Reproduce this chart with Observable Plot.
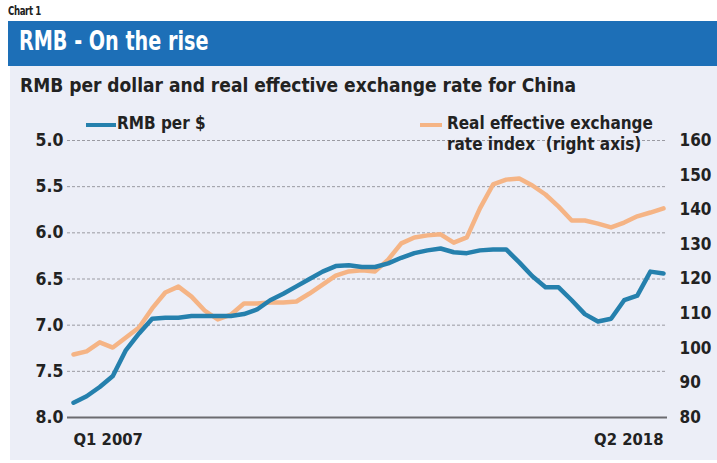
<!DOCTYPE html>
<html>
<head>
<meta charset="utf-8">
<script src="https://cdn.jsdelivr.net/npm/d3@7"></script>
<script src="https://cdn.jsdelivr.net/npm/@observablehq/plot@0.6"></script>
<style>
  html, body { margin: 0; padding: 0; background: #ffffff; }
  body { width: 717px; height: 463px; position: relative; overflow: hidden;
         font-family: "DejaVu Sans Condensed", "DejaVu Sans", sans-serif; }
  #kicker { position: absolute; left: 8px; top: 4px; font-size: 12px; font-weight: bold; color: #222; letter-spacing: -0.5px; transform: scaleX(0.8); transform-origin: left; }
  #banner { position: absolute; left: 8px; top: 21px; width: 709px; height: 45px; background: #1d6fb7; }
  #title { position: absolute; left: 11px; top: 5px; font-size: 26px; font-weight: bold; color: #fff; transform: scaleX(0.82); transform-origin: left; white-space: nowrap; }
  #panel { position: absolute; left: 10px; top: 66px; width: 707px; height: 394px; background: #eceef7; }
  #subtitle { position: absolute; left: 10px; top: 7px; font-size: 20px; font-weight: bold; color: #222; white-space: nowrap; transform: scaleX(0.95); transform-origin: left; }
  #chart { position: absolute; left: 0; top: 34px; }
  .leg { position: absolute; font-size: 17.5px; font-weight: bold; color: #222; line-height: 21px; white-space: nowrap; transform: scaleX(0.97); transform-origin: left; }
  .sw { position: absolute; height: 4px; }
</style>
</head>
<body>
<div id="kicker">Chart 1</div>
<div id="banner"><div id="title">RMB - On the rise</div></div>
<div id="panel">
  <div id="subtitle">RMB per dollar and real effective exchange rate for China</div>
  <div id="chart"></div>
  <div class="sw" style="left:76px; top:57px; width:30px; background:#2580ad;"></div>
  <div class="leg" style="left:107px; top:47px;">RMB per $</div>
  <div class="sw" style="left:410px; top:57px; width:22px; background:#f5b485;"></div>
  <div class="leg" style="left:437px; top:47px;">Real effective exchange<br>rate index&nbsp; (right axis)</div>
</div>
<script>
// Quarterly, Q1 2007 .. Q2 2018
const rmbPerDollar = [7.84, 7.77, 7.67, 7.55, 7.27, 7.09, 6.93, 6.92, 6.92, 6.90,
  6.90, 6.90, 6.90, 6.88, 6.83, 6.73, 6.66, 6.58, 6.50, 6.42,
  6.36, 6.35, 6.37, 6.37, 6.33, 6.27, 6.22, 6.19, 6.17, 6.21,
  6.22, 6.19, 6.18, 6.18, 6.32, 6.47, 6.59, 6.59, 6.73, 6.88,
  6.96, 6.93, 6.73, 6.68, 6.42, 6.44];
const reerIndex = [98.2, 99.1, 101.7, 100.2, 103.1, 106.0, 111.5, 116.1, 117.8, 114.9,
  110.9, 108.3, 109.7, 112.9, 112.9, 113.2, 113.2, 113.5, 115.8, 118.4,
  121.0, 122.2, 122.5, 122.2, 125.6, 130.3, 132.0, 132.6, 132.9, 130.5,
  132.0, 140.4, 147.3, 148.7, 149.0, 147.0, 144.4, 140.9, 136.9, 136.9,
  136.0, 134.9, 136.3, 138.1, 139.2, 140.4];
const leftTicks = [5.0, 5.5, 6.0, 6.5, 7.0, 7.5, 8.0];
const rightTicks = [80, 90, 100, 110, 120, 130, 140, 150, 160];
const xLabels = ["Q1 2007", "Q2 2018"];

// right axis 80..160 shares the frame with left axis 8.0..5.0
const toLeft = r => 5 + (160 - r) * 3 / 80;
const fromLeft = v => Math.round(160 - (v - 5) * 80 / 3);

const rmb = rmbPerDollar.map((v, i) => ({i, v}));
const reer = reerIndex.map((r, i) => ({i, v: toLeft(r)}));
const n = rmbPerDollar.length - 1;
const font = '"DejaVu Sans Condensed", "DejaVu Sans", sans-serif';

const chart = Plot.plot({
  width: 707,
  height: 360,
  marginLeft: 63,
  marginRight: 54,
  marginTop: 40,
  marginBottom: 43,
  style: {background: "transparent", fontFamily: font, fontSize: "17px", fontWeight: "bold", color: "#222"},
  x: {domain: [0, n], axis: null},
  y: {domain: [8, 5], axis: null},
  marks: [
    Plot.ruleY(leftTicks.filter(d => d !== 8), {stroke: "#9a9aa2", strokeWidth: 1, strokeDasharray: "3,2", insetLeft: -6, insetRight: -4}),
    Plot.ruleY([8], {stroke: "#6b6b70", strokeWidth: 2, insetLeft: -6, insetRight: -4}),
    Plot.axisY({anchor: "left", label: null, ticks: leftTicks, tickSize: 0, tickPadding: 10, tickFormat: d3.format(".1f"), fontSize: 17.5, fontWeight: "bold", fill: "#222"}),
    Plot.axisY({anchor: "right", label: null, ticks: rightTicks.map(toLeft), tickSize: 0, tickPadding: 16, tickFormat: fromLeft, fontSize: 17, fontWeight: "bold", fill: "#222"}),
    Plot.line(reer, {x: "i", y: "v", stroke: "#f5b485", strokeWidth: 4.5, curve: "linear"}),
    Plot.line(rmb, {x: "i", y: "v", stroke: "#2580ad", strokeWidth: 4.5, curve: "linear"}),
    Plot.text([{i: 0, t: xLabels[0]}], {x: "i", y: () => 8, text: "t", textAnchor: "start", dy: 22, fontSize: 16.5, fontWeight: "bold", fill: "#222"}),
    Plot.text([{i: n, t: xLabels[1]}], {x: "i", y: () => 8, text: "t", textAnchor: "end", dy: 22, fontSize: 16.5, fontWeight: "bold", fill: "#222"})
  ]
});
document.getElementById("chart").appendChild(chart);
</script>
</body>
</html>
